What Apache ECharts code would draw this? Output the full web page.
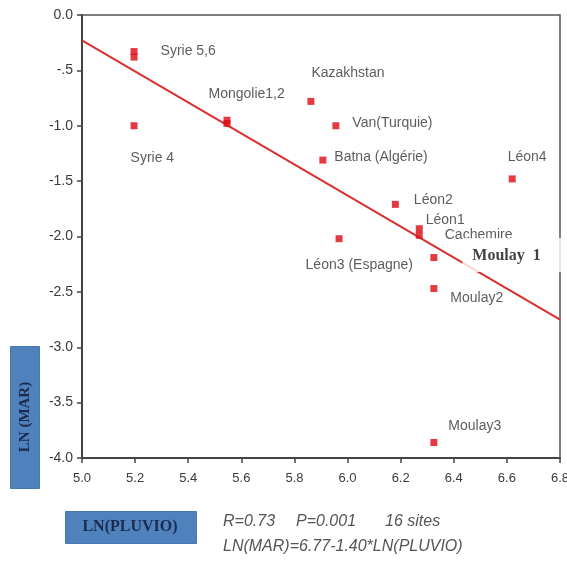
<!DOCTYPE html>
<html>
<head>
<meta charset="utf-8">
<script src="https://cdn.jsdelivr.net/npm/echarts@6/dist/echarts.min.js"></script>
<style>
html,body{margin:0;padding:0;background:#fff;}
#chart{width:567px;height:564px;}
</style>
</head>
<body>
<div id="chart"></div>
<script>
// ---- data ----
const siteNames = ['Syrie 5,6', '', 'Syrie 4', 'Mongolie1,2', '', 'Kazakhstan', 'Van(Turquie)', 'Batna (Algérie)',
  'Léon4', 'Léon2', 'Léon1', 'Cachemire', 'Léon3 (Espagne)', 'Moulay  1', 'Moulay2', 'Moulay3'];
const lnPluvio = [5.196, 5.196, 5.196, 5.546, 5.546, 5.862, 5.956, 5.907,
  6.62, 6.18, 6.27, 6.27, 5.968, 6.325, 6.325, 6.325];
const lnMar = [-0.33, -0.38, -1.0, -0.95, -0.98, -0.78, -1.0, -1.31,
  -1.48, -1.71, -1.93, -1.99, -2.02, -2.19, -2.47, -3.86];
const regX = [5.0, 6.8];
const regY = [-0.23, -2.75];
const xTickLabels = ['5.0', '5.2', '5.4', '5.6', '5.8', '6.0', '6.2', '6.4', '6.6', '6.8'];
const yTickLabels = ['0.0', '-.5', '-1.0', '-1.5', '-2.0', '-2.5', '-3.0', '-3.5', '-4.0'];

// ---- label placement (layout only) ----
const labelOffsets = [
  [30, 3], null, [0, 36], [-15, -23], null, [4, -25], [20, 1], [15, 1],
  [-1, -18], [22, -1], [10, -5], [29, 3], [-30, 30], 'box', [20, 13], [18, -13]
];

const FONT = '"Liberation Sans", Arial, sans-serif';
const SERIF = '"Liberation Serif", "Times New Roman", serif';

const scatterData = lnPluvio.map((x, i) => {
  const item = { value: [x, lnMar[i]] };
  const off = labelOffsets[i];
  if (off === 'box') {
    item.label = {
      show: true, formatter: siteNames[i], position: [32, -16],
      align: 'left', verticalAlign: 'top',
      fontFamily: SERIF, fontWeight: 'bold', fontSize: 16, lineHeight: 16,
      color: '#111', backgroundColor: '#fff', padding: [10, 40, 8, 10]
    };
  } else if (off) {
    item.label = {
      show: true, formatter: siteNames[i], position: off,
      align: 'left', verticalAlign: 'middle',
      fontFamily: FONT, fontSize: 14, color: '#333'
    };
  }
  return item;
});

const chart = echarts.init(document.getElementById('chart'), null, { renderer: 'canvas' });
chart.setOption({
  backgroundColor: '#fff',
  animation: false,
  grid: {
    left: 82, right: 7, top: 15, bottom: 106,
    outerBoundsMode: 'none', containLabel: false,
    show: true, borderColor: '#555', borderWidth: 1.5, backgroundColor: 'transparent'
  },
  xAxis: {
    type: 'value', min: 5.0, max: 6.8, interval: 0.2,
    axisLine: { onZero: false, lineStyle: { color: '#444', width: 2 } },
    axisTick: { show: true, length: 5, lineStyle: { color: '#444', width: 1.5 } },
    splitLine: { show: false },
    axisLabel: {
      margin: 14, fontFamily: FONT, fontSize: 13, color: '#3a3a3a',
      showMinLabel: true, showMaxLabel: true, hideOverlap: false,
      formatter: v => xTickLabels[Math.round((v - 5.0) / 0.2)]
    }
  },
  yAxis: {
    type: 'value', min: -4, max: 0, interval: 0.5,
    axisLine: { show: true, onZero: false, lineStyle: { color: '#444', width: 2 } },
    axisTick: { show: true, length: 5, lineStyle: { color: '#444', width: 1.5 } },
    splitLine: { show: false },
    axisLabel: {
      margin: 9, fontFamily: FONT, fontSize: 14, color: '#3a3a3a',
      formatter: v => yTickLabels[Math.round(-v / 0.5)]
    }
  },
  series: [
    {
      type: 'line', z: 3, symbol: 'none', silent: true,
      data: regX.map((x, i) => [x, regY[i]]),
      lineStyle: { color: '#d8302f', width: 2 }
    },
    {
      type: 'scatter', z: 5, symbol: 'rect', symbolSize: 7,
      itemStyle: { color: '#dd0a14' },
      data: scatterData
    }
  ],
  graphic: [
    {
      type: 'rect', left: 10, top: 346, z: 10,
      shape: { width: 29, height: 142 },
      style: { fill: '#4f81bd', stroke: '#4878b3', lineWidth: 1 }
    },
    {
      type: 'text', x: 25, y: 417, rotation: Math.PI / 2, z: 11,
      style: {
        text: 'LN (MAR)', fill: '#1a2b4f', font: 'bold 15px ' + SERIF,
        align: 'center', verticalAlign: 'middle'
      }
    },
    {
      type: 'rect', left: 65, top: 511, z: 10,
      shape: { width: 131, height: 32 },
      style: { fill: '#4f81bd', stroke: '#4878b3', lineWidth: 1 }
    },
    {
      type: 'text', x: 130, y: 527, z: 11,
      style: {
        text: 'LN(PLUVIO)', fill: '#1a2b4f', font: 'bold 16px ' + SERIF,
        align: 'center', verticalAlign: 'middle'
      }
    },
    {
      type: 'text', x: 223, y: 522, z: 11,
      style: { text: 'R=0.73', fill: '#555', font: 'italic 16px ' + FONT, align: 'left', verticalAlign: 'middle' }
    },
    {
      type: 'text', x: 296, y: 522, z: 11,
      style: { text: 'P=0.001', fill: '#555', font: 'italic 16px ' + FONT, align: 'left', verticalAlign: 'middle' }
    },
    {
      type: 'text', x: 385, y: 522, z: 11,
      style: { text: '16 sites', fill: '#555', font: 'italic 16px ' + FONT, align: 'left', verticalAlign: 'middle' }
    },
    {
      type: 'text', x: 223, y: 547, z: 11,
      style: { text: 'LN(MAR)=6.77-1.40*LN(PLUVIO)', fill: '#555', font: 'italic 16px ' + FONT, align: 'left', verticalAlign: 'middle' }
    }
  ]
});
</script>
</body>
</html>
